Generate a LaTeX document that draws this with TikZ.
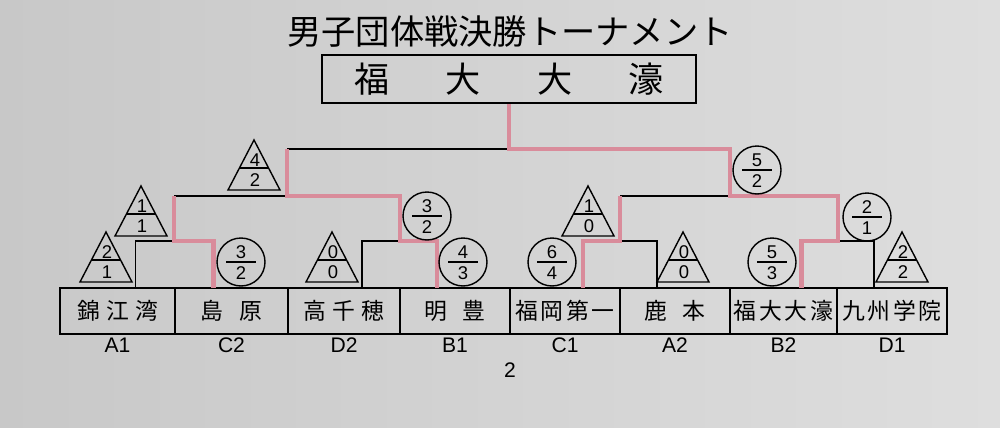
\documentclass[tikz,border=0pt]{standalone}
\usepackage{fontspec}
\setmainfont{Liberation Sans}
\newfontfamily\jpfont{Noto Sans CJK JP}
\usepackage{tikz}
\usetikzlibrary{positioning,calc}
\definecolor{winpink}{HTML}{D98C9B}
\definecolor{paperdark}{HTML}{C8C8C8}
\definecolor{paperlight}{HTML}{DEDEDE}

\tikzset{
	team/.style={draw, rectangle, line width=1.1pt, minimum height=0.92cm, inner sep=0pt, outer sep=0pt, font=\jpfont\fontsize{13}{15}\selectfont},
	seed/.style={inner sep=0pt, font=\fontsize{12}{14}\selectfont},
	digit/.style={inner sep=0pt, font=\fontsize{10.5}{12}\selectfont},
	score/.style={draw, circle, line width=0.8pt, minimum size=0.96cm, inner sep=0pt},
	markline/.style={line width=0.8pt},
	lose/.style={line width=0.85pt},
	win/.style={line width=2.6pt, winpink, line join=miter}
}

\begin{document}
\begin{tikzpicture}[x=0.02cm, y=0.02cm]
		
		\shade[left color=paperdark, right color=paperlight] (0,0) rectangle (1000,427);
		\useasboundingbox (0,0) rectangle (1000,427);
		
		% title and winner
		\node[inner sep=0pt, font=\jpfont\fontsize{19.5}{22}\selectfont] (title) at (510,395) {男子団体戦決勝トーナメント};
		\node[draw, line width=1.1pt, minimum width=7.48cm, minimum height=0.96cm, inner sep=0pt, font=\jpfont\fontsize{20}{22}\selectfont] (champ) at (509,348) {福\hspace{32pt}大\hspace{32pt}大\hspace{32pt}濠};
		
		% teams
		\foreach \i/\l/\r/\name/\code in {1/60/175/{錦\hspace{3.5pt}江\hspace{3.5pt}湾}/A1, 2/175/288/{島\hspace{9pt}原}/C2, 3/288/400/{高\hspace{3.5pt}千\hspace{3.5pt}穂}/D2, 4/400/510/{明\hspace{9pt}豊}/B1, 5/510/620/{福\hspace{1.5pt}岡\hspace{1.5pt}第\hspace{1.5pt}一}/C1, 6/620/730/{鹿\hspace{9pt}本}/A2, 7/730/837/{福\hspace{1.5pt}大\hspace{1.5pt}大\hspace{1.5pt}濠}/B2, 8/837/947/{九\hspace{1.5pt}州\hspace{1.5pt}学\hspace{1.5pt}院}/D1}{
			\node[team, minimum width={(\r-\l)*0.02cm}] (t\i) at ({(\l+\r)/2},116) {\name};
			\node[seed] (s\i) at ({(\l+\r)/2},82) {\code};
		}
		
		\node[seed] (page) at (510,57) {2};
		
		% match points
		\coordinate (m1) at (174,186);
		\coordinate (m2) at (400,186);
		\coordinate (m3) at (620,186);
		\coordinate (m4) at (838,186);
		\coordinate (h1) at (287,231);
		\coordinate (h2) at (730,231);
		\coordinate (f) at (509,278);
		
		% losers
		\draw[lose] ($(t1.north)+(18,0)$) |- (m1);
		\draw[lose] ($(t3.north)+(18,0)$) |- (m2);
		\draw[lose] ($(t6.north)+(-18,0)$) |- (m3);
		\draw[lose] ($(t8.north)+(-18,0)$) |- (m4);
		\draw[lose] (m1 |- h1) -- (h1);
		\draw[lose] (m3 |- h2) -- (h2);
		\draw[lose] (h1 |- f) -- (f);
		
		% winners
		\draw[win] ($(t2.north)+(-18,0)$) |- (m1) -- (m1 |- h1);
		\draw[win] ($(t4.north)+(-18,0)$) |- (m2) -- (m2 |- h1) -- (h1) -- (h1 |- f);
		\draw[win] ($(t5.north)+(18,0)$) |- (m3) -- (m3 |- h2);
		\draw[win] ($(t7.north)+(18,0)$) |- (m4) -- (m4 |- h2) -- (h2) -- (h2 |- f) -- (f) -- (champ.south);
		
		% triangle scores
		\foreach \n/\x/\b/\p/\q in {ta/106/145/2/1, tb/141/191/1/1, tc/254/237/4/2, td/332/145/0/0, te/588/191/1/0, tf/683/145/0/0, tg/902/145/2/2}{
			\draw[markline] (\x-26,\b) -- (\x,\b+50) -- (\x+26,\b) -- cycle;
			\draw[markline] (\x-14.6,\b+22) -- (\x+14.6,\b+22);
			\node[digit] (\n p) at (\x+1,\b+30) {\p};
			\node[digit] (\n q) at (\x+1,\b+10) {\q};
		}
		
		% circle scores
		\foreach \n/\x/\y/\p/\q in {ca/241/165/3/2, cb/427/211/3/2, cc/463/165/4/3, cd/552/165/6/4, ce/757/257/5/2, cf/772/165/5/3, cg/867/210/2/1}{
			\node[score] (\n) at (\x,\y) {};
			\draw[markline] (\x-15,\y) -- (\x+15,\y);
			\node[digit] (\n p) at (\x,\y+10) {\p};
			\node[digit] (\n q) at (\x,\y-11) {\q};
		}
		
\end{tikzpicture}
\end{document}
